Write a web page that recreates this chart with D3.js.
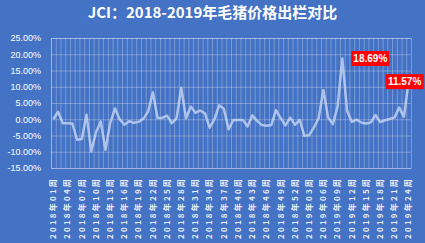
<!DOCTYPE html>
<html>
<head>
<meta charset="utf-8">
<script src="https://cdn.jsdelivr.net/npm/d3@7/dist/d3.min.js"></script>
<style>
	html, body { margin: 0; padding: 0; background: #4472C4; overflow: hidden; }
	svg { display: block; }
</style>
</head>
<body>
<div id="chart"></div>
<script>
const title = 'JCI：2018-2019年毛猪价格出栏对比';

// weeks per year shown in the chart
const years = [2018, 2019];
const weeksPerYear = [52, 24];

// every third week gets a label
const tickLabels = [
	'2018年01周', '2018年04周', '2018年07周', '2018年10周', '2018年13周', '2018年16周',
	'2018年19周', '2018年22周', '2018年25周', '2018年28周', '2018年31周', '2018年34周',
	'2018年37周', '2018年40周', '2018年43周', '2018年46周', '2018年49周', '2018年52周',
	'2019年03周', '2019年06周', '2019年09周', '2019年12周', '2019年15周', '2019年18周',
	'2019年21周', '2019年24周'
];

// weekly change, %
const values = [
	0.0, 2.3, -1.2, -1.2, -1.3, -6.3, -6.1, 1.4, -9.9, -4.0,
	-0.7, -9.4, -1.1, 3.3, 0.0, -1.7, -0.6, -1.1, -0.8, 0.2,
	2.3, 8.3, 0.4, 0.4, 1.1, -1.2, 0.3, 9.7, 0.3, 3.9,
	2.0, 2.7, 1.8, -2.6, 0.0, 4.3, 3.2, -3.1, -0.2, -0.2,
	-0.2, -2.2, 1.2, -0.5, -1.8, -2.0, -1.8, 2.8, 0.3, -1.9,
	0.5, -1.7, -0.2, -5.1, -4.9, -2.5, 0.3, 9.0, 0.5, -1.5,
	3.9, 18.69, 2.6, -0.8, -0.1, -1.0, -1.3, -1.0, 1.3, -0.9,
	-0.3, 0.1, 0.5, 3.6, 0.8, 11.57
];

const yTicks = [-15, -10, -5, 0, 5, 10, 15, 20, 25];

const callouts = [
	{week: '2019年10周', text: '18.69%'},
	{week: '2019年24周', text: '11.57%'}
];

const categories = [];
years.forEach((yr, k) => {
	for (let w = 1; w <= weeksPerYear[k]; w++) {
		categories.push(yr + '年' + String(w).padStart(2, '0') + '周');
	}
});

const width = 425, height = 243;
const margin = {top: 38, right: 14, bottom: 75, left: 51};

const svg = d3.select('#chart').append('svg')
	.attr('width', width)
	.attr('height', height);

svg.append('text')
	.attr('x', width / 2)
	.attr('y', 18)
	.attr('text-anchor', 'middle')
	.attr('fill', '#fff')
	.attr('font-family', '"Noto Sans CJK SC", sans-serif')
	.attr('font-weight', 'bold')
	.attr('font-size', 15)
	.text(title);

const xScale = d3.scaleBand()
	.domain(categories)
	.range([margin.left, width - margin.right]);
const yScale = d3.scaleLinear()
	.domain([-15, 25])
	.range([height - margin.bottom, margin.top]);

const grid = 'rgba(255,255,255,0.28)';

// vertical grid, one per week
svg.append('g').selectAll('line')
	.data(categories)
	.enter().append('line')
	.attr('x1', d => xScale(d) + 0.5)
	.attr('x2', d => xScale(d) + 0.5)
	.attr('y1', margin.top)
	.attr('y2', height - margin.bottom)
	.attr('stroke', grid)
	.attr('stroke-width', 1);

// y axis + horizontal grid
const yAxisG = svg.append('g')
	.attr('transform', 'translate(' + margin.left + ',0)')
	.call(d3.axisLeft(yScale)
		.tickValues(yTicks)
		.tickSize(-(width - margin.left - margin.right))
		.tickPadding(10)
		.tickFormat(d => d.toFixed(2) + '%'));
yAxisG.select('.domain').remove();
yAxisG.selectAll('line').attr('stroke', grid);
yAxisG.selectAll('text')
	.attr('fill', '#fff')
	.attr('font-family', '"Liberation Sans", sans-serif')
	.attr('font-size', 9);

svg.append('rect')
	.attr('x', margin.left + 0.5)
	.attr('y', margin.top + 0.5)
	.attr('width', width - margin.left - margin.right)
	.attr('height', height - margin.top - margin.bottom)
	.attr('fill', 'none')
	.attr('stroke', grid);

// x axis labels
const xAxisG = svg.append('g')
	.attr('transform', 'translate(0,' + (height - margin.bottom) + ')')
	.call(d3.axisBottom(xScale).tickValues(tickLabels).tickSize(0));
xAxisG.select('.domain').remove();
xAxisG.selectAll('text')
	.attr('fill', 'rgba(255,255,255,0.9)')
	.attr('font-family', '"Noto Sans CJK SC", sans-serif')
	.attr('font-weight', 'bold')
	.attr('font-size', 8)
	.attr('letter-spacing', 2.2)
	.attr('text-anchor', 'end')
	.attr('transform', 'rotate(-90)')
	.attr('x', -9)
	.attr('y', 0)
	.attr('dy', '0.35em');

const line = d3.line()
	.x((d, i) => xScale(categories[i]) + xScale.bandwidth() / 2)
	.y(d => yScale(d));

svg.append('path')
	.datum(values)
	.attr('d', line)
	.attr('fill', 'none')
	.attr('stroke', 'rgba(205,220,245,0.75)')
	.attr('stroke-width', 2.5)
	.attr('stroke-linejoin', 'round');

// red value boxes
const boxes = svg.append('g').selectAll('g')
	.data(callouts)
	.enter().append('g')
	.attr('transform', (d, i) => {
		const v = values[categories.indexOf(d.week)];
		const cx = xScale(d.week) + xScale.bandwidth() / 2 + (i === 0 ? 28 : -4);
		return 'translate(' + cx + ',' + yScale(v) + ')';
	});
boxes.append('rect')
	.attr('x', -19)
	.attr('y', -7.5)
	.attr('width', 38)
	.attr('height', 15)
	.attr('fill', '#FF0000');
boxes.append('text')
	.attr('text-anchor', 'middle')
	.attr('dy', '0.36em')
	.attr('fill', '#fff')
	.attr('font-family', '"Liberation Sans", sans-serif')
	.attr('font-weight', 'bold')
	.attr('font-size', 10)
	.text(d => d.text);
</script>
</body>
</html>
